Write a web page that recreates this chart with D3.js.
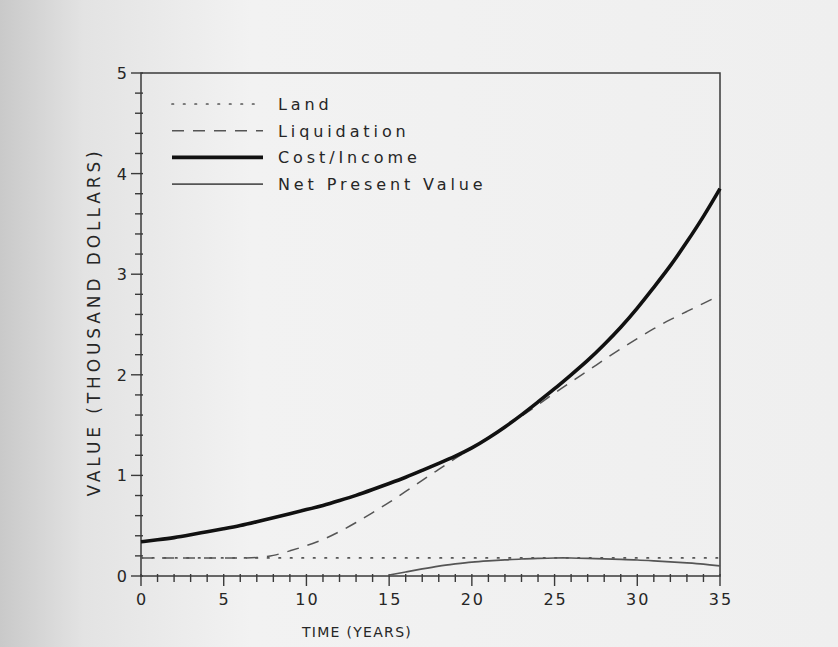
<!DOCTYPE html>
<html>
<head>
  <meta charset="UTF-8">
  <style>
    body { margin: 0; background: #f1f1f1; }
    svg { display: block; }
    text { font-family: "DejaVu Sans", sans-serif; fill: #262626; }
  </style>
</head>
<body>
  <script src="https://d3js.org/d3.v7.min.js"></script>
  <script>
    // values (thousand dollars by year)
    var years = d3.range(0, 36);
    var land = [0.18,0.18,0.18,0.18,0.18,0.18,0.18,0.18,0.18,0.18,0.18,0.18,0.18,0.18,0.18,0.18,0.18,0.18,
                0.18,0.18,0.18,0.18,0.18,0.18,0.18,0.18,0.18,0.18,0.18,0.18,0.18,0.18,0.18,0.18,0.18,0.18];
    var liquidation = [0.18,0.18,0.18,0.18,0.18,0.18,0.18,0.18,0.20,0.25,0.30,0.36,0.44,0.53,0.63,0.73,0.84,0.95,
                       1.06,1.17,1.27,1.37,1.48,1.59,1.70,1.82,1.93,2.04,2.15,2.26,2.36,2.46,2.55,2.63,2.71,2.79];
    var costIncome = [0.34,0.36,0.38,0.41,0.44,0.47,0.50,0.54,0.58,0.62,0.66,0.70,0.75,0.80,0.86,0.92,0.98,1.05,
                      1.12,1.19,1.27,1.37,1.48,1.60,1.73,1.86,2.00,2.14,2.30,2.47,2.66,2.87,3.08,3.32,3.57,3.85];
    var npvYears = d3.range(15, 36);
    var npv = [0.01,0.04,0.07,0.10,0.12,0.14,0.15,0.16,0.17,0.175,0.18,0.18,0.175,0.17,0.165,0.16,0.15,0.14,0.13,0.12,0.10];

    var xTicks = [0, 5, 10, 15, 20, 25, 30, 35];
    var yTicks = [0, 1, 2, 3, 4, 5];
    var legendNames = ["Land", "Liquidation", "Cost/Income", "Net Present Value"];

    var W = 838, H = 647;
    var svg = d3.select("body").append("svg").attr("width", W).attr("height", H);

    // scanned paper look: darker at the left edge
    var grad = svg.append("defs").append("linearGradient").attr("id", "paper");
    grad.append("stop").attr("offset", "0%").attr("stop-color", "#c9c9c9");
    grad.append("stop").attr("offset", "10%").attr("stop-color", "#e3e3e3");
    grad.append("stop").attr("offset", "30%").attr("stop-color", "#f2f2f2");
    grad.append("stop").attr("offset", "100%").attr("stop-color", "#efefef");
    svg.append("rect").attr("width", W).attr("height", H).attr("fill", "url(#paper)");

    var x = d3.scaleLinear().domain([0, 35]).range([141, 720]);
    var y = d3.scaleLinear().domain([0, 5]).range([576, 73]);

    var axisColor = "#3a3a3a";

    // ticks every year / every 0.2
    var g = svg.append("g");
    g.selectAll(".xm").data(d3.range(0, 36)).enter().append("line")
      .attr("x1", d => x(d)).attr("x2", d => x(d))
      .attr("y1", y(0) - 2).attr("y2", d => y(0) + (d % 5 === 0 ? 10 : 6))
      .attr("stroke", axisColor).attr("stroke-width", 1.4);
    g.selectAll(".ym").data(d3.range(0, 26)).enter().append("line")
      .attr("y1", d => y(d / 5)).attr("y2", d => y(d / 5))
      .attr("x1", d => x(0) - (d % 5 === 0 ? 10 : 6)).attr("x2", x(0) + 2)
      .attr("stroke", axisColor).attr("stroke-width", 1.4);

    // frame
    svg.append("rect")
      .attr("x", x(0)).attr("y", y(5))
      .attr("width", x(35) - x(0)).attr("height", y(0) - y(5))
      .attr("fill", "none").attr("stroke", axisColor).attr("stroke-width", 1.5);

    // tick labels
    svg.selectAll(".xl").data(xTicks).enter().append("text")
      .attr("x", d => x(d) + 1).attr("y", y(0) + 29)
      .attr("text-anchor", "middle").attr("font-size", 16).attr("letter-spacing", 2)
      .text(d => d);
    svg.selectAll(".yl").data(yTicks).enter().append("text")
      .attr("x", x(0) - 14).attr("y", d => y(d) + 6)
      .attr("text-anchor", "end").attr("font-size", 16)
      .text(d => d);

    // axis titles
    svg.append("text").attr("x", 357).attr("y", 637)
      .attr("text-anchor", "middle").attr("font-size", 14).attr("letter-spacing", 1.3)
      .text("TIME (YEARS)");
    svg.append("text").attr("transform", "translate(100,322) rotate(-90)")
      .attr("text-anchor", "middle").attr("font-size", 17).attr("letter-spacing", 3.9)
      .text("VALUE (THOUSAND DOLLARS)");

    var line = d3.line().x(d => x(d[0])).y(d => y(d[1])).curve(d3.curveBasis);

    var styles = [
      { color: "#555", width: 1.7, dash: "1.5,10" },
      { color: "#555", width: 1.5, dash: "12,9" },
      { color: "#111", width: 3.6, dash: null },
      { color: "#555", width: 1.7, dash: null }
    ];
    var series = [
      d3.zip(years, land),
      d3.zip(years, liquidation),
      d3.zip(years, costIncome),
      d3.zip(npvYears, npv)
    ];

    svg.selectAll(".series").data(series).enter().append("path")
      .attr("d", line)
      .attr("fill", "none")
      .attr("stroke", (d, i) => styles[i].color)
      .attr("stroke-width", (d, i) => styles[i].width)
      .attr("stroke-dasharray", (d, i) => styles[i].dash)
      .attr("stroke-linecap", (d, i) => i === 0 ? "round" : "butt");

    // legend
    var leg = svg.selectAll(".leg").data(legendNames).enter().append("g")
      .attr("transform", (d, i) => "translate(172," + (104 + i * 26.7) + ")");
    leg.append("line")
      .attr("x1", 0).attr("x2", 91).attr("y1", 0).attr("y2", 0)
      .attr("stroke", (d, i) => styles[i].color)
      .attr("stroke-width", (d, i) => styles[i].width)
      .attr("stroke-dasharray", (d, i) => styles[i].dash)
      .attr("stroke-linecap", (d, i) => i === 0 ? "round" : "butt");
    leg.append("text")
      .attr("x", 106).attr("y", 6)
      .attr("font-size", 16).attr("letter-spacing", 3.9)
      .text(d => d);
  </script>
</body>
</html>
